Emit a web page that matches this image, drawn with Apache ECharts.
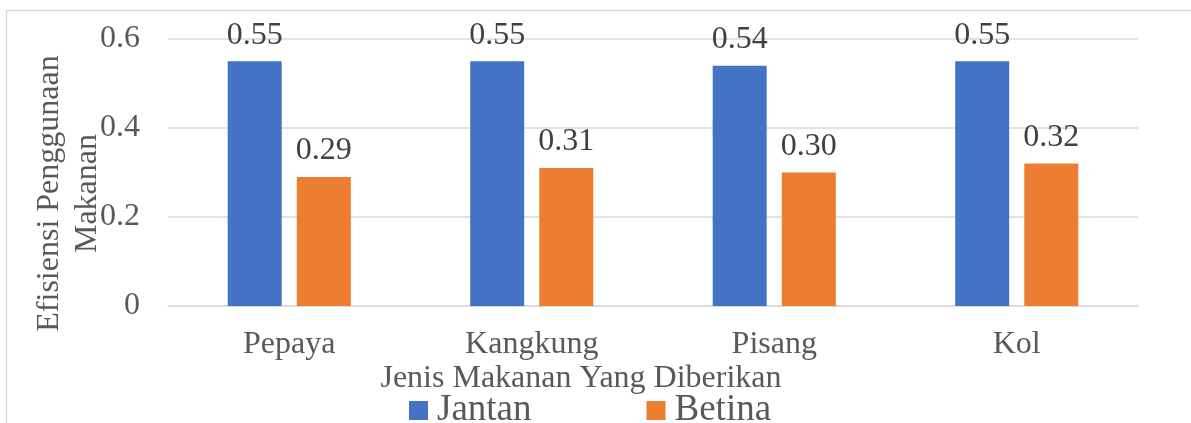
<!DOCTYPE html>
<html>
<head>
<meta charset="utf-8">
<script src="https://cdn.jsdelivr.net/npm/echarts@6/dist/echarts.min.js"></script>
<style>
  html, body { margin: 0; padding: 0; background: #fff; }
  #chart { width: 1191px; height: 423px; }
</style>
</head>
<body>
<div id="chart"></div>
<script>
var categories = ['Pepaya', 'Kangkung', 'Pisang', 'Kol'];
var jantan = [0.55, 0.55, 0.54, 0.55];
var betina = [0.29, 0.31, 0.30, 0.32];
var yTicks = [0, 0.2, 0.4, 0.6];

var font = "'Liberation Serif', 'Times New Roman', serif";

function barLabel() {
    return {
        show: true,
        position: 'top',
        distance: 10,
        fontFamily: font,
        fontSize: 32,
        color: '#404040',
        formatter: function (p) {
            return p.value.toFixed(2);
        }
    };
}

var chartOptions = {
    animation: false,
    textStyle: { fontFamily: font },
    graphic: [{
        // chart border
        type: 'rect',
        shape: { x: 6.5, y: 10.5, width: 1300, height: 500 },
        style: { fill: 'none', stroke: '#d9d9d9', lineWidth: 1.5 },
        silent: true
    }],
    title: {
        text: 'Jenis Makanan Yang Diberikan',
        left: 576,
        top: 358,
        textAlign: 'center',
        textStyle: {
            fontFamily: font,
            fontSize: 32,
            fontWeight: 'normal',
            color: '#595959'
        }
    },
    legend: {
        data: ['Jantan', 'Betina'],
        left: 409,
        top: 392,
        padding: 0,
        itemWidth: 19,
        itemHeight: 19,
        itemGap: 115,
        icon: 'rect',
        textStyle: {
            fontFamily: font,
            fontSize: 37,
            color: '#595959',
            padding: [0, 0, 0, 4]
        }
    },
    grid: {
        left: 168,
        right: 53,
        top: 39,
        bottom: 117
    },
    xAxis: [{
        type: 'category',
        data: categories,
        axisLine: { lineStyle: { color: '#d9d9d9', width: 1.5 } },
        axisTick: { show: false },
        axisLabel: {
            margin: 23,
            fontFamily: font,
            fontSize: 32,
            color: '#595959'
        }
    }],
    yAxis: [{
        type: 'value',
        min: yTicks[0],
        max: yTicks[yTicks.length - 1],
        interval: 0.2,
        name: 'Efisiensi Penggunaan\nMakanan',
        nameLocation: 'middle',
        nameRotate: 90,
        nameGap: 61,
        nameMoveOverlap: false,
        nameTextStyle: {
            fontFamily: font,
            fontSize: 32,
            lineHeight: 38,
            color: '#595959',
            padding: [0, 42, 0, 0]
        },
        axisLine: { show: false },
        axisTick: { show: false },
        splitLine: { lineStyle: { color: '#d9d9d9', width: 1.5 } },
        axisLabel: {
            margin: 28,
            fontFamily: font,
            fontSize: 32,
            color: '#595959'
        }
    }],
    series: [{
            name: 'Jantan',
            type: 'bar',
            barWidth: 54,
            barGap: '28%',
            itemStyle: { color: '#4472C4' },
            label: barLabel(),
            data: jantan
        },
        {
            name: 'Betina',
            type: 'bar',
            barWidth: 54,
            itemStyle: { color: '#ED7D31' },
            label: barLabel(),
            data: betina
        }
    ]
};

var chart = echarts.init(document.getElementById('chart'));
chart.setOption(chartOptions);
</script>
</body>
</html>
